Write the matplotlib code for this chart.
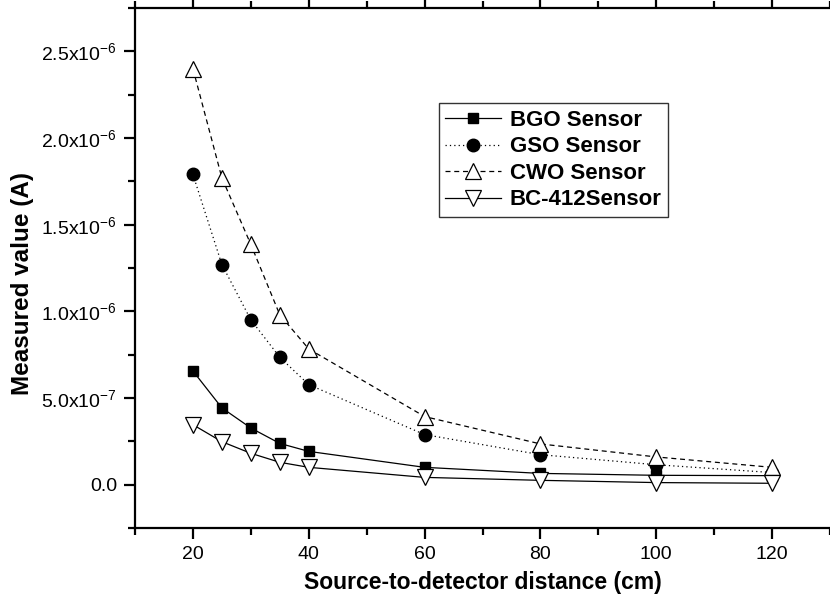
# ----- Import libraries -----
import matplotlib
matplotlib.use("Agg")
import matplotlib.pyplot as plt
from matplotlib.ticker import MultipleLocator

plt.rcParams['font.family'] = ['Liberation Sans', 'DejaVu Sans']
plt.rcParams['mathtext.fontset'] = 'custom'
plt.rcParams['mathtext.rm'] = 'Liberation Sans'
plt.rcParams['mathtext.it'] = 'Liberation Sans:italic'
plt.rcParams['mathtext.bf'] = 'Liberation Sans:bold'

# ----- Data -----
distance = [20, 25, 30, 35, 40, 60, 80, 100, 120]  # [cm]

bgo = [6.56e-7, 4.43e-7, 3.27e-7, 2.38e-7, 1.92e-7, 1.00e-7, 6.5e-8, 5.4e-8, 5.2e-8]
gso = [1.79e-6, 1.27e-6, 9.51e-7, 7.35e-7, 5.77e-7, 2.89e-7, 1.73e-7, 1.15e-7, 7.0e-8]
cwo = [2.40e-6, 1.77e-6, 1.386e-6, 9.8e-7, 7.83e-7, 3.93e-7, 2.35e-7, 1.60e-7, 1.0e-7]
bc412 = [3.46e-7, 2.48e-7, 1.81e-7, 1.29e-7, 1.00e-7, 4.2e-8, 2.5e-8, 1.2e-8, 8e-9]

y_ticks = [0.0, 5e-7, 1e-6, 1.5e-6, 2e-6, 2.5e-6]
y_tick_labels = ["0.0", "5.0x10$^{-7}$", "1.0x10$^{-6}$", "1.5x10$^{-6}$",
                 "2.0x10$^{-6}$", "2.5x10$^{-6}$"]
x_ticks = [20, 40, 60, 80, 100, 120]

# ----- Figure -----
fig = plt.figure(figsize=(8.3, 6.09), dpi=100)
ax = fig.add_axes([135 / 830, 1 - 528 / 609, 695 / 830, 520 / 609])

ax.plot(distance, bgo, color="black", lw=0.9, ls="-", marker="s",
        ms=7.5, mfc="black", mec="black", label="BGO Sensor")
ax.plot(distance, gso, color="black", lw=0.9, ls=(0, (1, 2.5)), marker="o",
        ms=9, mfc="black", mec="black", label="GSO Sensor")
ax.plot(distance, cwo, color="black", lw=0.9, ls=(0, (4, 3)), marker="^",
        ms=11, mfc="white", mec="black", mew=0.9, label="CWO Sensor")
ax.plot(distance, bc412, color="black", lw=0.9, ls="-", marker="v",
        ms=11, mfc="white", mec="black", mew=0.9, label="BC-412Sensor")

ax.set_xlim(10, 130)
ax.set_ylim(-2.5e-7, 2.75e-6)
ax.set_xticks(x_ticks)
ax.xaxis.set_minor_locator(MultipleLocator(10))
ax.set_yticks(y_ticks, y_tick_labels)
ax.yaxis.set_minor_locator(MultipleLocator(2.5e-7))

ax.spines['right'].set_visible(False)
for side in ['left', 'bottom', 'top']:
    ax.spines[side].set_linewidth(1.6)

ax.tick_params(axis='both', which='major', direction='out', length=8,
               width=1.6, labelsize=14, pad=5)
ax.tick_params(axis='both', which='minor', direction='out', length=5,
               width=1.6)
ax.tick_params(axis='x', which='both', top=True)

ax.set_xlabel("Source-to-detector distance (cm)", fontsize=16.5,
              fontweight="bold", labelpad=6)
ax.set_ylabel("Measured value (A)", fontsize=17.5, fontweight="bold")
ax.yaxis.set_label_coords(-0.146, 0.47)

leg = ax.legend(loc="upper left", bbox_to_anchor=(0.437, 0.817),
                borderaxespad=0, fancybox=False, framealpha=1,
                edgecolor="#333333", handlelength=2.5, handletextpad=0.4,
                labelspacing=0.25, borderpad=0.3,
                prop={'weight': 'bold', 'size': 16})
leg.get_frame().set_linewidth(1.0)

fig.savefig("out.png", dpi=100)
